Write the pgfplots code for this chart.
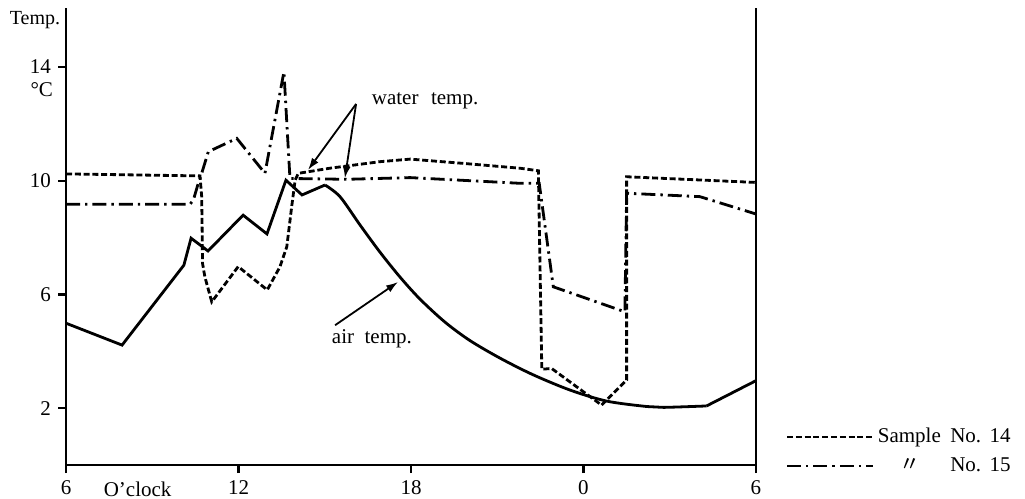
\documentclass[border=0pt]{standalone}
\usepackage{fontspec}
\setmainfont{Liberation Serif}
\newfontfamily\cjk{Noto Sans CJK JP}
\usepackage{pgfplots}
\pgfplotsset{compat=1.18}
\usetikzlibrary{arrows.meta}

\begin{document}
\begin{tikzpicture}
\begin{axis}[
  scale only axis, width=345pt, height=228.5pt,
  xmin=6, xmax=30, ymin=0, ymax=16.07,
  axis x line*=bottom, axis y line*=left,
  axis line style={line width=1.3pt},
  xtick={6,12,18,24,30}, xticklabels={6,12,18,0,6},
  ytick={2,6,10,14},
  tick align=outside, major tick length=4pt,
  tick style={line width=1.2pt, black},
  tick label style={font=\fontsize{10.5}{12}\selectfont},
  /pgf/number format/assume math mode=true,
  clip=false,
  legend style={at={(axis cs:39.01,0.49)}, anchor=east, draw=none, fill=none,
    inner sep=0pt, row sep=2pt, font=\fontsize{10.5}{12}\selectfont},
  legend cell align=right,
  legend image code/.code={\draw[#1, line width=0.8pt] (0pt,0pt) -- (43pt,0pt);},
]
% air temp. (solid)
\addplot[black, line width=1.4pt, forget plot] coordinates {
  (6,4.99) (7.95,4.22) (10.10,7.03) (10.35,7.98) (10.94,7.53) (12.16,8.79)
  (12.99,8.13) (13.65,10.02) (14.21,9.50) (15.01,9.85)};
\addplot[black, line width=1.4pt, smooth, tension=0.5, forget plot] coordinates {
  (15.01,9.85) (15.53,9.44) (16.23,8.44) (16.92,7.49) (17.62,6.61) (18.31,5.84)
  (19.18,5.03) (20.05,4.38) (21.10,3.76) (22.24,3.18) (23.53,2.64) (24.81,2.25)
  (26.20,2.06) (26.78,2.03) (28.28,2.08)};
\addplot[black, line width=1.4pt, forget plot] coordinates {(28.28,2.08) (30,2.97)};

% Sample No. 14 (dashed)
\addplot[black, line width=1.4pt, dash pattern=on 3pt off 1.4pt] coordinates {
  (6,10.24) (10.66,10.17) (10.72,9.44) (10.75,7.09) (10.83,6.62) (11.07,5.74)
  (11.99,6.98) (13.0,6.16) (13.44,6.97) (13.68,7.68) (13.85,9.09) (13.97,10.02)
  (14.08,10.26) (15.18,10.44) (16.92,10.67) (17.97,10.76) (19.82,10.61)
  (21.79,10.44) (22.43,10.35) (22.55,3.37) (22.89,3.40) (24.63,2.11)
  (25.50,2.99) (25.50,10.14) (30,9.94)};
\addlegendentry{Sample\hspace{0.45em}No.\hspace{0.4em}14}

% Sample No. 15 (dash-dot)
\addplot[black, line width=1.4pt, dash pattern=on 7pt off 2.5pt on 1.2pt off 2.5pt] coordinates {
  (6,9.17) (10.31,9.17) (10.43,9.32) (10.60,9.91) (10.72,10.26) (10.95,11.02)
  (11.94,11.49) (12.69,10.55) (12.92,10.26) (13.58,13.83) (13.79,10.08)
  (15.76,10.05) (17.97,10.11) (21.79,9.91) (22.46,9.91) (22.95,6.27)
  (25.44,5.39) (25.50,9.56) (28.05,9.44) (30,8.83)};
\addlegendentry{{\cjk 〃}\hspace{1.4em}No.\hspace{0.4em}15}

% right-hand frame line
\draw[line width=1.3pt] (rel axis cs:1,0) -- (rel axis cs:1,1);

% annotations
\draw[line width=0.9pt, -{Latex[length=6pt,width=4pt]}] (axis cs:16.09,12.70) -- (axis cs:14.42,10.38);
\draw[line width=0.9pt, -{Latex[length=6pt,width=4pt]}] (axis cs:16.09,12.70) -- (axis cs:15.70,10.09);
\draw[line width=0.9pt, -{Latex[length=6pt,width=4pt]}] (axis cs:15.36,4.92) -- (axis cs:17.55,6.44);
\node[font=\fontsize{10.5}{12}\selectfont] at (axis cs:18.49,12.8) {water\hspace{0.6em}temp.};
\node[font=\fontsize{10.5}{12}\selectfont] at (axis cs:16.64,4.43) {air\hspace{0.5em}temp.};
\node[font=\fontsize{10}{12}\selectfont] at (axis cs:4.92,15.65) {Temp.};
\node[font=\fontsize{10.5}{12}\selectfont] at (axis cs:5.155,13.19) {°C};
\node[font=\fontsize{10.5}{12}\selectfont, inner sep=0pt] at (axis cs:8.49,-0.85) {O’clock};

\coordinate (bbsw) at (axis cs:3.704,-1.161);
\coordinate (bbne) at (axis cs:39.357,16.356);
\end{axis}
\pgfresetboundingbox
\path (bbsw) rectangle (bbne);
\end{tikzpicture}
\end{document}
